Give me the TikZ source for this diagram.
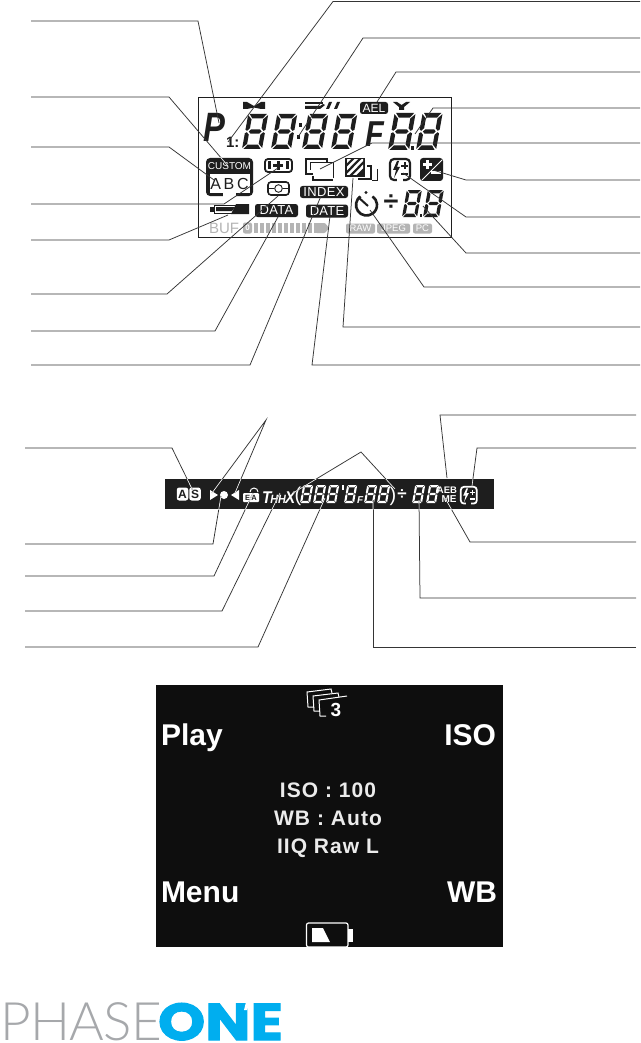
\documentclass[tikz,border=0pt]{standalone}
\usepackage{fontspec}
\setmainfont{Liberation Sans}
\definecolor{lcdgray}{HTML}{B4B4B4}
\definecolor{screenblack}{HTML}{0E0E0E}
\definecolor{logogray}{HTML}{A6A8AB}
\definecolor{logoblue}{HTML}{00AEEF}
\definecolor{ink}{HTML}{1E1E1E}
\newcommand\fs[1]{\fontsize{#1}{#1}\selectfont}
\tikzset{
 leaderline/.style={draw=ink!90,line width=.75pt,line join=miter},
 lbl/.style={inner sep=0pt,outer sep=0pt,anchor=center},
 screentxt/.style={inner sep=0pt,outer sep=0pt,anchor=base west,text=white,font=\fs{30}\bfseries},
 screenmid/.style={inner sep=0pt,outer sep=0pt,anchor=base,text=white!92!black,font=\fs{21}\bfseries\addfontfeature{LetterSpace=5}},
 tag/.style={fill=ink,rounded corners=2.5pt},
 gtag/.style={fill=lcdgray,rounded corners=2pt},
}
% seven segment digit: bottom-left X,Y ; width, height, colour
\newcommand\sg[5]{%
 \begin{scope}[shift={(#1pt,-#2pt)},x={(#3pt,0pt)},y={(.18*#4pt,#4pt)}]
  \fill[#5] (.07,1)--(.93,1)--(.76,.875)--(.24,.875)--cycle;
  \fill[#5] (.07,0)--(.93,0)--(.76,.125)--(.24,.125)--cycle;
  \fill[#5] (.18,.5)--(.28,.56)--(.72,.56)--(.82,.5)--(.72,.44)--(.28,.44)--cycle;
  \fill[#5] (0,.97)--(.21,.85)--(.21,.59)--(.09,.52)--(0,.55)--cycle;
  \fill[#5] (0,.03)--(.21,.15)--(.21,.41)--(.09,.48)--(0,.45)--cycle;
  \fill[#5] (1,.97)--(.79,.85)--(.79,.59)--(.91,.52)--(1,.55)--cycle;
  \fill[#5] (1,.03)--(.79,.15)--(.79,.41)--(.91,.48)--(1,.45)--cycle;
 \end{scope}}
% flash +/- box
\newcommand\flashbox[5]{%
 \begin{scope}[shift={(#1,#2)},scale=#3]
  \draw[#4,line width=#3*2.2pt,rounded corners=#3*4pt] (1,1) rectangle (21,22);
  \fill[#5] (8,20) rectangle (14,24);
  \fill[#4] (8,3)--(4,12)--(7,12)--(5,20)--(11,9)--(8,9)--(10,3)--cycle;
  \fill[#4] (12,7) rectangle (19,9); \fill[#4] (14.5,4.5) rectangle (16.5,11.5);
  \fill[#4] (12,15) rectangle (19,17);
 \end{scope}}
\newcommand\leader[4]{\coordinate (#1a) at (#2); \coordinate (#1b) at (#3); \coordinate (#1c) at (#4); \draw[leaderline] (#1a)--(#1b)--(#1c);}
\begin{document}
\begin{tikzpicture}[x=1pt,y=-1pt]
\useasboundingbox (0,0) rectangle (640,1043);
\fill[white] (0,0) rectangle (640,1043);
%%%%% top LCD panel
\node[draw=ink,line width=.8pt,minimum width=253pt,minimum height=140pt,inner sep=0pt,anchor=north west] (panel) at (198,97) {};
% P and F
\node[lbl,anchor=base west,font=\fs{41}\bfseries\itshape,text=ink,xscale=.8] (bigP) at (203.5,142) {P};
\node[lbl,anchor=base west,font=\fs{36}\bfseries\itshape,text=ink,xscale=.85] (bigF) at (365,147) {F};
\node[lbl,anchor=base west,font=\fs{15}\bfseries,text=ink] (oneColon) at (226,148) {1:};
% digits
\sg{242}{149}{20}{35}{ink}
\sg{271}{149}{20}{35}{ink}
\sg{302}{149}{20}{35}{ink}
\sg{331}{149}{20}{35}{ink}
\sg{388}{150}{21}{37}{ink}
\sg{416}{150}{20}{37}{ink}
\fill[ink] (411,146) rectangle (414,150);
\fill[ink] (299,123) rectangle (302,127);
\fill[ink] (297,135) rectangle (300,139);
\sg{402}{217}{15}{27}{ink}
\sg{423}{217}{16}{27}{ink}
\fill[ink] (419.5,214) rectangle (422,217);
% top row icons
\fill[ink] (243,102)--(247,102)--(254,106)--(261,102)--(265,102)--(265,109)--(261,109)--(254,107.5)--(247,109)--(243,109)--cycle;
\fill[ink] (305,102) rectangle (323,104.5);
\fill[ink] (305,106)--(320,106)--(323,104)--(325,105)--(320,109)--(305,109)--cycle;
\fill[ink] (329,102)--(332,102)--(329,109)--(326,109)--cycle;
\fill[ink] (337,102)--(340,102)--(337,109)--(334,109)--cycle;
\node[tag,minimum width=28pt,minimum height=12pt,inner sep=0pt,text=white,font=\fs{12}] (ael) at (374,108) {AEL};
\fill[ink] (393,102)--(397,102)--(401.5,105)--(406,102)--(410,102)--(404,107)--(404,110)--(399,110)--(399,107)--cycle;
% custom
\fill[ink,rounded corners=4pt] (206,158) rectangle (253,196);
\fill[white] (209.5,174) rectangle (249.5,193);
\fill[white] (223,192) rectangle (236,196.5);
\node[lbl,font=\fs{10},text=white] (custom) at (229.5,166) {CUSTOM};
\node[lbl,font=\fs{16},text=ink] (abc) at (229.5,184) {A\,B\,C};
% bracket icon
\draw[ink,line width=1.8pt,rounded corners=3pt] (265,159) rectangle (292,172);
\fill[ink] (268,161.5) rectangle (271,169.5);
\fill[ink] (286,161.5) rectangle (289,169.5);
\fill[ink] (273,164) rectangle (283,167);
\fill[ink] (276.5,161) rectangle (279.5,170);
% frames icon
\draw[ink,line width=1.6pt] (313,174)--(306,174)--(306,159)--(327,159)--(327,162);
\draw[ink,line width=1pt] (310,170)--(310,163)--(333,163)--(333,178);
\draw[ink,line width=1.2pt] (313,176)--(313,180)--(333,180);
% hatched
\fill[ink] (345,158) rectangle (365,177);
\begin{scope}
\clip (347,160) rectangle (363,175);
\foreach \k in {-14,-7,0,7}{\fill[white] (344+\k,177)--(347.5+\k,177)--(367+\k,157)--(363.5+\k,157)--cycle;}
\end{scope}
\draw[ink,line width=2pt] (358,179)--(371,179)--(371,166)--(367,166);
\draw[ink,line width=1pt] (372,181)--(377,181)--(377,169);
% flash, exposure
\flashbox{389}{158}{1}{ink}{white}
\fill[ink,rounded corners=3pt] (420,158) rectangle (443,181);
\draw[white,line width=1pt] (422,180)--(442,160);
\fill[white] (423,163.5) rectangle (432,166); \fill[white] (426.2,160) rectangle (428.8,169.5);
\fill[white] (431,171.5) rectangle (441,174);
% battery
\draw[ink,line width=1pt] (214,205) rectangle (244,213);
\fill[ink] (210,206.5) rectangle (214,211.5);
\fill[ink] (216,207) -- (235,207)--(232,211)--(216,211)--cycle;
\fill[ink] (236,204)--(249,204)--(249,214)--(231,214)--cycle;
% metering
\draw[ink,line width=1.6pt,rounded corners=3pt] (268,182) rectangle (289,195);
\draw[ink,line width=.9pt] (268,188.5)--(274,188.5) (283,188.5)--(289,188.5);
\draw[ink,line width=.9pt] (278.5,188.5) circle (3.8pt);
\node[tag,minimum width=48pt,minimum height=12pt,inner sep=0pt,text=white,font=\fs{13}\addfontfeature{LetterSpace=3}] (indexTag) at (324,192) {INDEX};
\node[tag,minimum width=43pt,minimum height=13pt,inner sep=0pt,text=white,font=\fs{13}\addfontfeature{LetterSpace=2}] (dataTag) at (276.5,210.5) {DATA};
\node[tag,minimum width=42pt,minimum height=13pt,inner sep=0pt,text=white,font=\fs{13}\addfontfeature{LetterSpace=2}] (dateTag) at (327,211) {DATE};
% timer
\draw[ink,line width=2.6pt] (360.5,196.4) arc[start angle=125,end angle=415,radius=10.5pt];
\fill[ink] (366,192.5) circle (1.7pt);
\draw[ink,line width=2pt] (358,197)--(368,206);
% buf bar
\node[lbl,anchor=base west,font=\fs{15},text=lcdgray] (buf) at (209,233) {BUF};
\node[gtag,minimum width=9pt,minimum height=11pt,inner sep=0pt,text=white,font=\fs{8}\bfseries] (zeroBox) at (247.5,228) {0};
\foreach \k in {0,...,10}{\fill[lcdgray] (254+6*\k,223) rectangle (258+6*\k,233);}
\fill[lcdgray,rounded corners=1pt] (316,223)--(325,223)--(329,228)--(325,233)--(316,233)--cycle;
\node[gtag,minimum width=29pt,minimum height=10pt,inner sep=0pt,text=white,font=\fs{9.5}] (raw) at (360.5,228.5) {RAW};
\node[gtag,minimum width=33pt,minimum height=10pt,inner sep=0pt,text=white,font=\fs{9.5}] (jpeg) at (393.5,228.5) {JPEG};
\node[gtag,minimum width=19pt,minimum height=10pt,inner sep=0pt,text=white,font=\fs{9.5}] (pc) at (422.5,228.5) {PC};
% divide top
\node[lbl,font=\fs{27}\bfseries,text=ink] (divA) at (391,203) {÷};
%%%%% strip
\node[fill=ink,minimum width=329pt,minimum height=30pt,inner sep=0pt,anchor=north west] (strip) at (165,479) {};
\node[fill=white,rounded corners=2.5pt,minimum width=11.5pt,minimum height=13pt,inner sep=0pt,text=ink,font=\fs{12}\bfseries] (aBox) at (182.5,494) {A};
\node[fill=white,rounded corners=2.5pt,minimum width=11.5pt,minimum height=13pt,inner sep=0pt,text=ink,font=\fs{12}\bfseries] (sBox) at (195,494) {S};
\fill[white] (210,490)--(218,495)--(210,500)--cycle;
\fill[white] (224,495) circle (4pt);
\fill[white] (239,490)--(231,495)--(239,500)--cycle;
\node[fill=white,rounded corners=1pt,minimum width=16pt,minimum height=9pt,inner sep=0pt,text=ink,font=\fs{7.5}\bfseries] (fBox) at (251,497.5) {E\,A};
\draw[white,line width=1pt] (250,492) arc[start angle=180,end angle=0,radius=4pt];
\node[lbl,anchor=base west,font=\fs{17}\bfseries\itshape,text=white,xscale=.9] (thx) at (262,503) {T\kern-1pt\fs{12}HH\fs{17}\kern-1ptX};
\node[lbl,anchor=base,font=\fs{20},text=white] (parenL) at (298,501) {(};
\sg{300}{503}{10}{18}{white}
\sg{313}{503}{10}{18}{white}
\sg{326}{503}{10}{18}{white}
\fill[white] (342,485) rectangle (344,490);
\sg{344}{503}{10}{18}{white}
\node[lbl,anchor=base west,font=\fs{10}\bfseries\itshape,text=white] (smallF) at (357,503) {F};
\sg{364}{503}{10}{18}{white}
\sg{377}{503}{10}{18}{white}
\node[lbl,anchor=base,font=\fs{20},text=white] (parenR) at (393,501) {)};
\node[lbl,font=\fs{17}\bfseries,text=white] (divB) at (402,495) {÷};
\sg{412}{503}{10}{18}{white}
\sg{426}{503}{10}{18}{white}
\node[lbl,font=\fs{9.5}\bfseries,text=white] (aeb) at (447,490) {AEB};
\node[lbl,font=\fs{10}\bfseries,text=white] (me) at (449,499) {ME};
\flashbox{460}{486}{.8}{white}{ink}
%%%%% leaders top
\leader{La}{31,21}{198,21}{219,123}
\leader{Lb}{31,97}{169,97}{228,166}
\leader{Lc}{31,147}{169,147}{214,180}
\leader{Ld}{31,204}{224,204}{278,168}
\leader{Le}{31,240}{169,240}{228,215}
\leader{Lf}{31,294}{167,294}{278,196}
\leader{Lg}{31,331}{215,331}{278,217}
\leader{Lh}{31,365}{250,365}{321,196}
\leader{Ra}{640,1.5}{333,1.5}{228,142}
\leader{Rb}{640,38}{363,38}{298,137}
\leader{Rc}{640,72}{396,72}{377,102}
\leader{Rd}{640,108}{433,108}{415,134}
\leader{Re}{640,143}{372,143}{320,169}
\leader{Rf}{640,180}{466,180}{433,170}
\leader{Rg}{640,217}{466,217}{403,173}
\leader{Rh}{640,253}{466,253}{423,206}
\leader{Ri}{640,287}{424,287}{370,210}
\leader{Rj}{640,327}{343,327}{353,178}
\leader{Rk}{640,365}{312,365}{330,216}
%%%%% leaders middle
\leader{Ba}{25,448}{172,448}{193,491}
\coordinate (apexA) at (266,420); \coordinate (triA) at (212,493); \coordinate (triB) at (235,493);
\draw[leaderline] (triA)--(apexA)--(triB);
\leader{Bb}{25,544}{213,544}{221,496}
\leader{Bc}{25,576}{214,576}{253,493}
\leader{Bd}{25,611}{222,611}{280,493}
\leader{Be}{25,647}{258,647}{325,498}
\coordinate (apexB) at (361,452); \coordinate (parA) at (293,493); \coordinate (parB) at (395,489);
\draw[leaderline] (parA)--(apexB)--(parB);
\leader{Bf}{636,415}{440,415}{447,478}
\leader{Bg}{636,448}{477,448}{472,486}
\leader{Bh}{636,542}{470,542}{445,498}
\leader{Bi}{636,598}{420,598}{419,500}
\leader{Bj}{636,647}{373,647}{373,500}
% leaders turn white inside the black strip
\begin{scope}
\clip (165,479) rectangle (494,509);
\draw[white,line width=.6pt] (Bab)--(Bac) (apexA)--(triA) (apexA)--(triB) (Bbb)--(Bbc) (Bcb)--(Bcc) (Bdb)--(Bdc) (Beb)--(Bec) (apexB)--(parA) (apexB)--(parB) (Bfb)--(Bfc) (Bgb)--(Bgc) (Bhb)--(Bhc) (Bib)--(Bic) (Bjb)--(Bjc);
\end{scope}
\begin{scope}
\clip (206,158) rectangle (253,174);
\draw[white,line width=.6pt] (Lbb)--(Lbc);
\end{scope}
%%%%% screen
\node[fill=screenblack,minimum width=347pt,minimum height=262pt,inner sep=0pt,anchor=north west] (screen) at (156,685) {};
\node[screentxt] (play) at (161,745) {Play};
\node[screentxt,anchor=base east] (iso) at (496,745) {ISO};
\node[screentxt] (menu) at (161,902) {Menu};
\node[screentxt,anchor=base east] (wb) at (497,902) {WB};
\node[screenmid] (l1) at (328,797) {ISO : 100};
\node[screenmid] (l2) at (328,825) {WB : Auto};
\node[screenmid] (l3) at (328,853) {IIQ Raw L};
% frames
\draw[white,line width=1pt] (314,707)--(308,707)--(307,692)--(331,689)--(332,693);
\draw[white,line width=1pt] (320,711)--(314,711)--(313,696)--(338,693)--(339,697);
\draw[white,line width=1pt] (326,716)--(320,716)--(319,700)--(347,696);
\node[lbl,font=\fs{19}\bfseries,text=white] (three) at (336,710) {3};
% battery
\draw[white,line width=1.2pt,rounded corners=2pt] (306.5,923) rectangle (348,947);
\fill[white] (348,929) rectangle (353,942);
\fill[white] (312,928)--(323,928)--(330,942)--(312,942)--cycle;
%%%%% logo
\node[lbl,anchor=base west,font=\fontspec{Lato Light}\fs{53},text=logogray] (phase) at (0,1040) {\addfontfeature{LetterSpace=-1}PHASE};
\node[lbl,anchor=base west,text=logoblue] (one) at (158,1040) {\resizebox{125pt}{37pt}{\fontspec{Poppins}[FakeBold=2]\fs{54}\bfseries ONE}};
\fill[white] (246,1002)--(250,1002)--(247,1010)--(244,1010)--cycle;
\end{tikzpicture}
\end{document}
